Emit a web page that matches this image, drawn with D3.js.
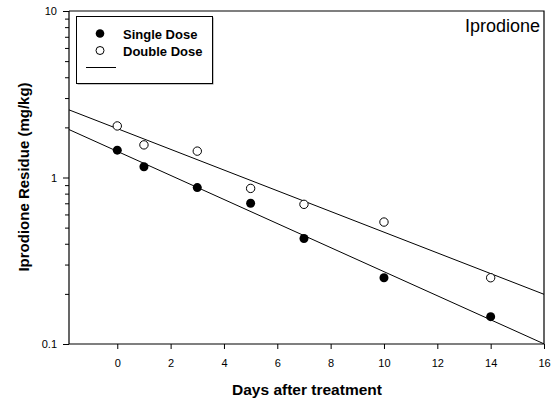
<!DOCTYPE html>
<html><head><meta charset="utf-8">
<script src="https://cdn.jsdelivr.net/npm/d3@7"></script>
<style>body{margin:0;background:#fff}svg{display:block}text{font-family:"Liberation Sans",Arial,sans-serif}</style>
</head><body><svg id="c" width="558" height="401"></svg>
<script>
const days = [0, 1, 3, 5, 7, 10, 14];
const singleDose = [1.46, 1.16, 0.87, 0.70, 0.43, 0.25, 0.146];
const doubleDose = [2.04, 1.57, 1.44, 0.86, 0.69, 0.54, 0.25];
const xTicks = [0, 2, 4, 6, 8, 10, 12, 14, 16];
const yTicks = [0.1, 1, 10];
const yTickLabels = ["0.1", "1", "10"];

const svg = d3.select("#c");
const L = 69, R = 544, T = 11, B = 344;
const x = d3.scaleLinear().domain([-1.81, 16]).range([L, R]);
const y = d3.scaleLog().domain([0.1, 10]).range([B, T]);

const minor = [];
[0.1, 1].forEach(d => { for (let k = 2; k <= 9; k++) minor.push(d * k); });

const yAxis = d3.axisLeft(y).tickValues(yTicks).tickFormat((d, i) => yTickLabels[i]).tickSize(6).tickPadding(6);
const gy = svg.append("g").attr("transform", `translate(${L},0)`).call(yAxis);
svg.append("g").attr("transform", `translate(${L},0)`)
  .call(d3.axisLeft(y).tickValues(minor).tickFormat("").tickSize(4))
  .select(".domain").remove();
const gx = svg.append("g").attr("transform", `translate(0,${B})`)
  .call(d3.axisBottom(x).tickValues(xTicks).tickSize(5).tickPadding(10));
svg.selectAll(".tick text").attr("font-size", 11).attr("font-family", "Liberation Sans, Arial, sans-serif").attr("fill", "#000");
svg.selectAll(".domain").attr("stroke", "#000").attr("stroke-width", 1.2);
gy.select(".domain").attr("d", `M0,${B}V${T}`);
gx.select(".domain").attr("d", `M${L},0H${R}`);

svg.append("path").attr("d", `M${L},${T}H${R}V${B}`).attr("fill", "none").attr("stroke", "#000").attr("stroke-width", 1.2);

function fit(xs, ys) {
  const ly = ys.map(v => Math.log10(v));
  const mx = d3.mean(xs), my = d3.mean(ly);
  let sxy = 0, sxx = 0;
  xs.forEach((d, i) => { sxy += (d - mx) * (ly[i] - my); sxx += (d - mx) * (d - mx); });
  const b = sxy / sxx, a = my - b * mx;
  return t => Math.pow(10, a + b * t);
}
svg.append("clipPath").attr("id", "pc").append("rect").attr("x", L).attr("y", T).attr("width", R - L).attr("height", B - T);
[singleDose, doubleDose].forEach(s => {
  const f = fit(days, s);
  const xs = x.domain();
  svg.append("path").attr("clip-path", "url(#pc)")
    .attr("d", d3.line().x(d => x(d)).y(d => y(f(d)))(xs))
    .attr("fill", "none").attr("stroke", "#000").attr("stroke-width", 1);
});

svg.append("g").selectAll("circle").data(days).join("circle")
  .attr("cx", d => x(d)).attr("cy", (d, i) => y(doubleDose[i])).attr("r", 4.2)
  .attr("fill", "#fff").attr("stroke", "#000").attr("stroke-width", 1);
svg.append("g").selectAll("circle").data(days).join("circle")
  .attr("cx", d => x(d)).attr("cy", (d, i) => y(singleDose[i])).attr("r", 4.5)
  .attr("fill", "#000");

// legend
svg.append("rect").attr("x", 77.5).attr("y", 17.5).attr("width", 136).attr("height", 67).attr("fill", "#888");
svg.append("rect").attr("x", 76.5).attr("y", 16.5).attr("width", 136).attr("height", 67).attr("fill", "#fff").attr("stroke", "#000").attr("stroke-width", 1);
svg.append("circle").attr("cx", 100).attr("cy", 33.5).attr("r", 4.3).attr("fill", "#000");
svg.append("circle").attr("cx", 100).attr("cy", 50.5).attr("r", 4).attr("fill", "#fff").attr("stroke", "#000");
svg.append("line").attr("x1", 86).attr("x2", 116).attr("y1", 67.5).attr("y2", 67.5).attr("stroke", "#000");
svg.append("text").attr("x", 123).attr("y", 38.5).attr("font-size", 13).attr("font-weight", "bold").text("Single Dose");
svg.append("text").attr("x", 123).attr("y", 55.5).attr("font-size", 13).attr("font-weight", "bold").text("Double Dose");

svg.append("text").attr("x", 540).attr("y", 32).attr("text-anchor", "end").attr("font-size", 18).text("Iprodione");

svg.append("text").attr("x", 307).attr("y", 395).attr("text-anchor", "middle").attr("font-size", 15.5).attr("font-weight", "bold").text("Days after treatment");
svg.append("text").attr("transform", "translate(29,177) rotate(-90)").attr("text-anchor", "middle").attr("font-size", 15).attr("font-weight", "bold").text("Iprodione Residue (mg/kg)");
</script></body></html>
